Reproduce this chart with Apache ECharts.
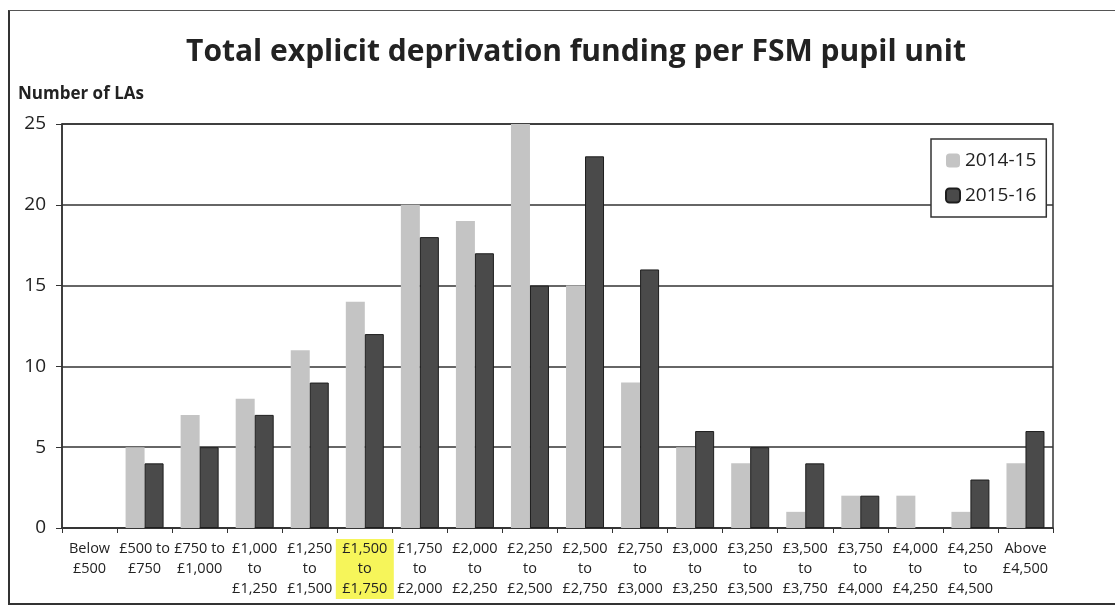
<!DOCTYPE html>
<html>
<head>
<meta charset="utf-8">
<script src="https://cdn.jsdelivr.net/npm/echarts@6/dist/echarts.min.js"></script>
<style>
  html, body { margin: 0; padding: 0; background: #fff; }
  #frame {
    position: absolute; left: 8px; top: 10px; width: 1110px; height: 592px;
    border-left: 2px solid #333; border-top: 1px solid #555; border-bottom: 2px solid #333;
  }
  #chart { position: absolute; left: 0; top: 0; width: 1115px; height: 609px; }
</style>
</head>
<body>
<div id="frame"></div>
<div id="chart"></div>
<script>
// funding bands (per FSM pupil unit)
const categories = [
  'Below\n£500', '£500 to\n£750', '£750 to\n£1,000', '£1,000\nto\n£1,250',
  '£1,250\nto\n£1,500', '£1,500\nto\n£1,750', '£1,750\nto\n£2,000', '£2,000\nto\n£2,250',
  '£2,250\nto\n£2,500', '£2,500\nto\n£2,750', '£2,750\nto\n£3,000', '£3,000\nto\n£3,250',
  '£3,250\nto\n£3,500', '£3,500\nto\n£3,750', '£3,750\nto\n£4,000', '£4,000\nto\n£4,250',
  '£4,250\nto\n£4,500', 'Above\n£4,500'
]
const y2014 = [0, 5, 7, 8, 11, 14, 20, 19, 25, 15, 9, 5, 4, 1, 2, 2, 1, 4]
const y2015 = [0, 4, 5, 7, 9, 12, 18, 17, 15, 23, 16, 6, 5, 4, 2, 0, 3, 6]
const yTicks = [0, 5, 10, 15, 20, 25]
const highlighted = '£1,500\nto\n£1,750' // marked with a highlighter on the scan

// empty bands draw nothing (no border sliver on the axis)
const noZero = arr => arr.map(v => (v === 0 ? null : v))

const font = '"Open Sans", "Noto Sans", sans-serif'
var myChart = echarts.init(document.getElementById('chart'))
myChart.setOption({
  animation: false,
  textStyle: { fontFamily: font, color: '#222' },
  title: {
    text: 'Total explicit deprivation funding per FSM pupil unit',
    left: 571,
    top: 32,
    textAlign: 'center',
    textStyle: { fontFamily: font, fontSize: 30, fontWeight: 'bold', color: '#222' }
  },
  legend: {
    data: ['2014-15', '2015-16'],
    orient: 'vertical',
    left: 931,
    top: 139,
    width: 116,
    padding: [12, 10, 12, 14],
    itemGap: 16,
    itemWidth: 14,
    itemHeight: 14,
    borderColor: '#333',
    borderWidth: 1.5,
    backgroundColor: '#fff',
    textStyle: { fontFamily: font, fontSize: 19, color: '#222' }
  },
  graphic: [{
    type: 'text',
    left: 18,
    top: 86,
    style: { text: 'Number of LAs', font: 'bold 17px ' + font, fill: '#222' }
  }],
  grid: { left: 62, right: 62, top: 124, bottom: 81, show: true, borderColor: '#333', borderWidth: 1.5 },
  xAxis: {
    type: 'category',
    data: categories,
    axisLine: { lineStyle: { color: '#333', width: 1.5 } },
    axisTick: { show: true, length: 5, lineStyle: { color: '#333' } },
    axisLabel: {
      interval: 0,
      margin: 11,
      fontSize: 14.5,
      lineHeight: 20,
      color: '#222',
      fontFamily: font,
      formatter: function (value) {
        if (value !== highlighted) return value
        return value.split('\n').map(s => '{hl|' + s + '}').join('\n')
      },
      rich: {
        hl: {
          backgroundColor: '#f6f55a',
          width: 58,
          align: 'center',
          lineHeight: 20,
          height: 20,
          fontSize: 14.5,
          fontFamily: font,
          color: '#222'
        }
      }
    }
  },
  yAxis: {
    type: 'value',
    min: yTicks[0],
    max: yTicks[yTicks.length - 1],
    interval: 5,
    axisLine: { show: true, lineStyle: { color: '#333', width: 1.5 } },
    axisTick: { show: true, length: 6, lineStyle: { color: '#333' } },
    axisLabel: { fontSize: 19, margin: 16, color: '#222', fontFamily: font },
    splitLine: { lineStyle: { color: '#333', width: 1.5 } }
  },
  series: [
    {
      name: '2014-15',
      type: 'bar',
      data: noZero(y2014),
      barWidth: 19,
      barGap: '0%',
      itemStyle: { color: '#c4c4c4' }
    },
    {
      name: '2015-16',
      type: 'bar',
      data: noZero(y2015),
      barWidth: 19,
      itemStyle: { color: '#4a4a4a', borderColor: '#1e1e1e', borderWidth: 1 }
    }
  ]
})
</script>
</body>
</html>
